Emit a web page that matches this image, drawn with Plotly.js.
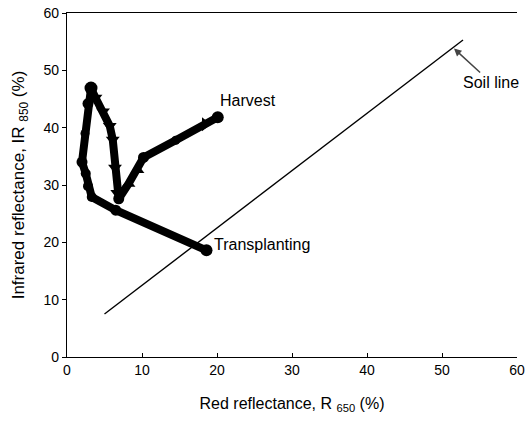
<!DOCTYPE html>
<html><head><meta charset="utf-8">
<script src="https://cdn.plot.ly/plotly-3.0.1.min.js"></script>
<style>html,body{margin:0;padding:0;background:#fff}#c{width:528px;height:425px}</style>
</head><body><div id="c"></div>
<script>
// Trajectory from transplanting to harvest (red R650 %, infrared IR850 %)
const redR = [18.6, 6.5, 3.3, 2.8, 2.5, 2.0, 2.4, 2.8, 3.2, 3.8, 4.8, 5.7, 6.1, 6.4, 6.7, 6.9, 8.2, 9.4, 10.2, 14.5, 18.4, 20.1];
const irR  = [18.6, 25.6, 27.9, 29.8, 32.0, 34.0, 39.0, 44.2, 46.9, 45.2, 42.8, 40.3, 37.9, 33.0, 28.6, 27.6, 30.2, 32.6, 34.8, 37.8, 40.6, 41.8];
const symbols = ['circle','circle','circle','circle','circle','circle','circle','circle','circle','triangle-down','triangle-down','triangle-down','triangle-down','triangle-down','triangle-down','circle','triangle-up','triangle-up','circle','circle','triangle-right','circle'];
const sizes = [12, 11, 10, 10, 10, 11, 9, 11, 13, 12, 12, 12, 12, 12, 12, 11, 12, 12, 11, 9, 12, 12];
// Soil line
const soilX = [5.0, 52.8];
const soilY = [7.5, 55.3];
const xTicks = [0, 10, 20, 30, 40, 50, 60];
const yTicks = [0, 10, 20, 30, 40, 50, 60];

const font = 'Liberation Sans, Arial, sans-serif';
const data = [
  {x: soilX, y: soilY, mode: 'lines', line: {color: '#000', width: 1.4}, hoverinfo: 'skip'},
  {x: redR, y: irR, mode: 'lines', line: {color: '#000', width: 8}, opacity: 1},
  {x: redR, y: irR, mode: 'markers', opacity: 1,
   marker: {color: 'rgb(0,0,0)', opacity: 1, size: sizes, symbol: symbols, line: {width: 0, color: 'rgb(0,0,0)'}}}
];
const layout = {
  width: 528, height: 425,
  margin: {l: 67, r: 11, t: 13, b: 68},
  paper_bgcolor: '#fff', plot_bgcolor: '#fff',
  showlegend: false,
  font: {family: font, color: '#000', size: 14},
  xaxis: {range: [0, 60], tickvals: xTicks, ticks: 'inside', ticklen: 4, tickcolor: '#000',
          showline: true, linecolor: '#000', linewidth: 1.2, mirror: true, showgrid: false, zeroline: false,
          tickfont: {size: 14},
          title: {text: 'Red reflectance, R <sub>650</sub> (%)', font: {size: 16}, standoff: 20}},
  yaxis: {range: [0, 60], tickvals: yTicks, ticks: 'outside', ticklen: 4, tickcolor: '#000',
          showline: true, linecolor: '#000', linewidth: 1.2, showgrid: false, zeroline: false,
          tickfont: {size: 14},
          title: {text: 'Infrared reflectance, IR <sub>850</sub> (%)', font: {size: 17}, standoff: 14}},
  annotations: [
    {x: 20.1, y: 41.8, text: 'Harvest', showarrow: false, xanchor: 'left', yanchor: 'bottom', xshift: 0, yshift: 6, font: {size: 16}},
    {x: 18.6, y: 18.6, text: 'Transplanting', showarrow: false, xanchor: 'left', yanchor: 'bottom', xshift: 5, yshift: -5, font: {size: 16}},
    {x: 51.6, y: 53.8, text: 'Soil line', showarrow: true, arrowhead: 2, arrowsize: 1, arrowwidth: 1.5,
     ax: 37, ay: 34, font: {size: 16}}
  ]
};
Plotly.newPlot('c', data, layout, {displayModeBar: false, staticPlot: true});
</script>
</body></html>
